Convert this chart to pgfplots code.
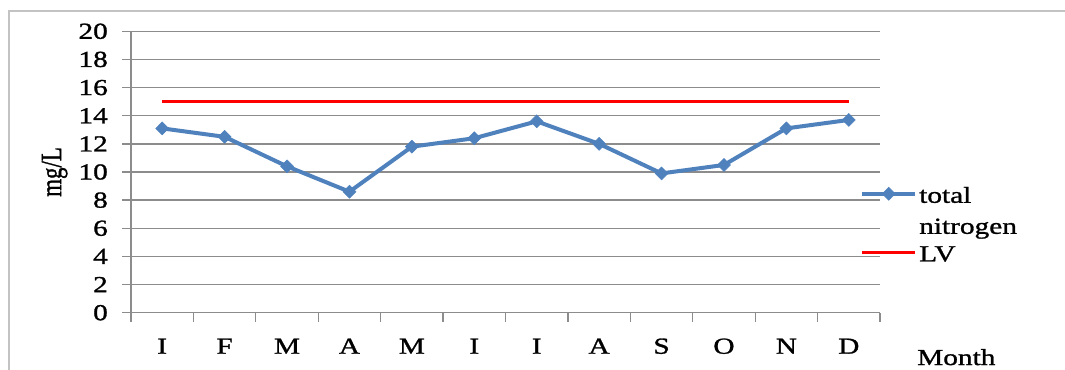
\documentclass[border=0pt]{standalone}
\usepackage{fontspec}
\setmainfont{Liberation Serif}[FakeStretch=1.28,FakeBold=1.2]
\newfontfamily\plainserif{Liberation Serif}[FakeBold=1.2]
\usepackage{graphicx}
\usepackage{pgfplots}
\pgfplotsset{compat=1.18}
\definecolor{tnblue}{RGB}{79,129,189}
\definecolor{gridgray}{RGB}{140,140,140}
\definecolor{framegray}{RGB}{195,195,195}
\begin{document}
\begin{tikzpicture}[x=1bp,y=1bp,font=\fontsize{23}{27.6}\selectfont]
\useasboundingbox (0,0) rectangle (1065,369);
\clip (0,0) rectangle (1065,369);
\draw[framegray, line width=2bp] (9,-5) -- (9,357.7) -- (1075,357.7);
\begin{axis}[
  at={(131bp,56.3bp)}, anchor=south west, scale only axis,
  width=749bp, height=281.4bp,
  xmin=0.5, xmax=12.5, ymin=0, ymax=20,
  axis x line*=bottom, axis y line*=left,
  axis line style={gridgray, line width=1.3bp, -},
  ytick={0,2,...,20},
  xtick={1,...,12},
  xticklabels={I,F,M,A,M,I,I,A,S,O,N,D},
  minor xtick={0.5,1.5,...,12.5},
  tick align=outside,
  major tick length=9bp, minor tick length=9bp,
  major x tick style={draw=none},
  minor x tick style={gridgray, line width=1.3bp},
  major y tick style={gridgray, line width=1.3bp},
  ymajorgrids, grid style={gridgray, line width=1.3bp},
  /pgf/number format/assume math mode=true,
  yticklabel style={anchor=east, inner sep=0pt, xshift=-14bp},
  xticklabel style={anchor=base, inner sep=0pt, yshift=-32bp},
  ylabel={\scalebox{1}[1.28]{\plainserif mg/L}},
  every axis y label/.style={at={(rel axis cs:-0.102,0.5)}, anchor=center, rotate=90, inner sep=0pt},
  xlabel={Month},
  every axis x label/.style={at={(rel axis cs:1.0494,-0.1859)}, anchor=base west, inner sep=0pt},
  legend style={draw=none, fill=none, inner sep=0pt, at={(rel axis cs:0.9733,0.4478)}, anchor=north west,
    nodes={inner xsep=2bp, inner ysep=0pt}, cells={anchor=base west}, row sep=42bp},
  legend image code/.code={\draw[mark repeat=2,mark phase=2,#1] plot coordinates {(0bp,9bp) (26.5bp,9bp) (53bp,9bp)};},
  clip=false,
]
\addplot[tnblue, line width=4bp, mark=diamond*, mark size=6.5bp, mark options={xscale=1.33, line width=0.5bp}]
  coordinates {(1,13.1) (2,12.5) (3,10.4) (4,8.6) (5,11.8) (6,12.4) (7,13.6) (8,12.0) (9,9.9) (10,10.5) (11,13.1) (12,13.7)};
\addlegendentry{\vtop{\baselineskip=31bp\hbox{total}\hbox{nitrogen}}}
\addplot[red, line width=2.5bp] coordinates {(1,15) (12,15)};
\addlegendentry{LV}
\end{axis}
\end{tikzpicture}
\end{document}
